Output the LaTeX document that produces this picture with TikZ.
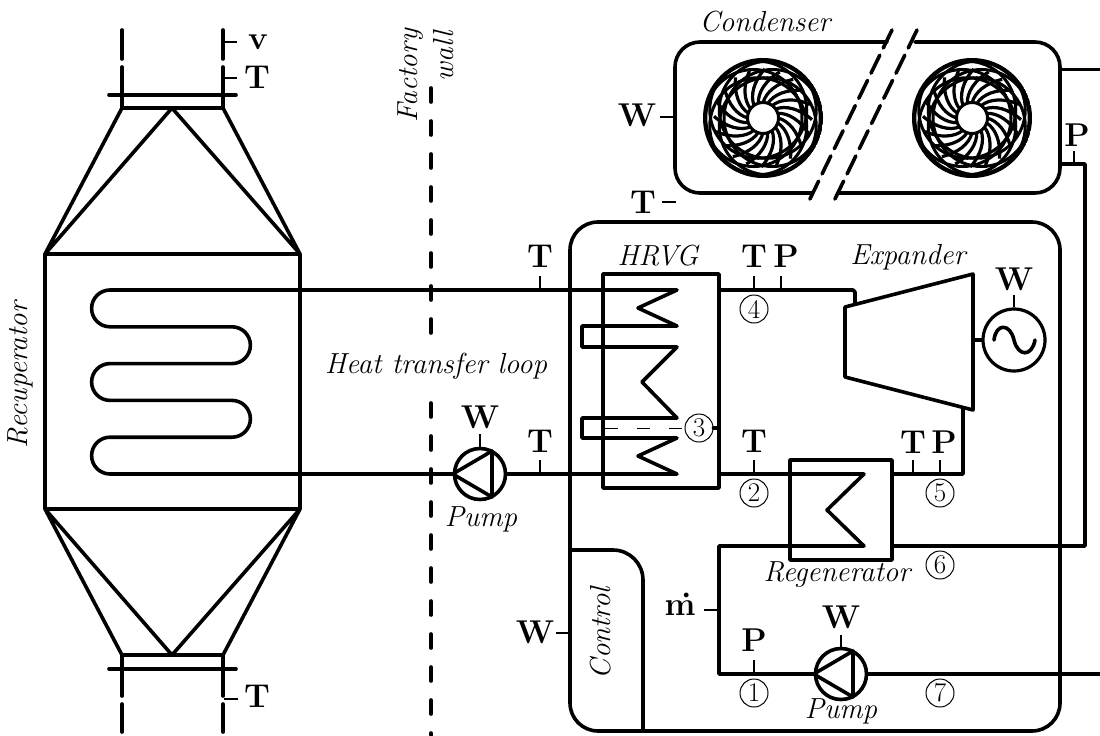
\documentclass[tikz,border=0pt]{standalone}
\begin{document}
\tikzset{
  thick line/.style={line width=3.6pt,line join=round,line cap=round},
  tickline/.style={line width=2pt},
  wallline/.style={line width=3.6pt,line cap=round,dash pattern=on 14pt off 19pt},
  sens/.style={font=\fontsize{33}{33}\selectfont\bfseries,inner sep=0pt},
  lab/.style={font=\fontsize{29}{29}\selectfont\itshape,inner sep=0pt},
  num/.style={circle,draw,line width=1pt,minimum size=28pt,inner sep=0pt,font=\fontsize{27}{27}\selectfont},
}
\newcommand{\fan}[2]{%
  \begin{scope}[shift={(#1,#2)}]
    \clip (0,0) circle[radius=60];
    \foreach \a in {0,18,...,359}{
      \draw[line width=3.2pt] (\a:15) .. controls (\a+6:26) and (\a+22:38) .. (\a+38:49);
    }
    \foreach \a in {0,60,...,359}{
      \draw[line width=3pt] (\a:9.5) circle[radius=48.5];
    }
    \draw[line width=4.6pt] (0,0) circle[radius=58];
    \draw[line width=3pt,fill=white] (0,0) circle[radius=15.5];
  \end{scope}}
\begin{tikzpicture}[x=1pt,y=-1pt]
\useasboundingbox (0,0) rectangle (1100,736);

% ---- recuperator
\draw[thick line] (45,254) rectangle (300,509);
\draw[thick line] (122,108) -- (223,108) -- (300,254) -- (172,108) -- (45,254) -- cycle;
\draw[thick line] (122,655) -- (223,655) -- (300,509) -- (172,655) -- (45,509) -- cycle;
\draw[thick line] (109,95) -- (236,95);
\draw[thick line] (109,669) -- (236,669);
\draw[thick line] (122,108) -- (122,67) (122,59) -- (122,30);
\draw[thick line] (223,108) -- (223,67) (223,59) -- (223,30);
\draw[thick line] (122,655) -- (122,696) (122,704) -- (122,732);
\draw[thick line] (223,655) -- (223,696) (223,704) -- (223,732);
\draw[tickline] (224,42) -- (237,42);
\draw[tickline] (224,78) -- (237,78);
\draw[tickline] (224,699) -- (238,699);
\node[sens] (sv) at (258,42) {v};
\node[sens] (stt) at (257,77) {T};
\node[sens] (stb) at (257,696) {T};
\node[lab,rotate=90] (lrec) at (20,375) {Recuperator};

% ---- factory wall
\draw[wallline] (431,88) -- (431,340);
\draw[wallline] (431,403) -- (431,735);
\node[lab,rotate=90] (lfac) at (411,76) {Factory};
\node[lab,rotate=90] (lwall) at (444,56) {wall};
\node[lab] (lhtl) at (436,366) {Heat transfer loop};

% ---- condenser
\draw[thick line] (887,42) -- (700,42) arc[start angle=270,end angle=180,radius=25] -- (675,168) arc[start angle=180,end angle=90,radius=25] -- (813,193);
\draw[thick line] (838,193) -- (1035,193) arc[start angle=90,end angle=0,radius=25] -- (1060,67) arc[start angle=0,end angle=-90,radius=25] -- (915,42);
\draw[line width=3.6pt,dash pattern=on 20pt off 8pt,line cap=round] (892,30) -- (807,205);
\draw[line width=3.6pt,dash pattern=on 20pt off 8pt,line cap=round] (917,30) -- (832,205);
\fan{763}{118}
\fan{972}{118}
\node[lab] (lcond) at (765,22) {Condenser};
\draw[thick line] (1060,69.5) -- (1100,69.5);
\node[sens] (swc) at (637,115) {W};
\draw[tickline] (660,117) -- (675,117);
\node[sens] (spc) at (1077,135) {P};
\draw[tickline] (1074,151) -- (1074,164);

% ---- main enclosure
\draw[thick line] (598,222) -- (1032,222) arc[start angle=-90,end angle=0,radius=28] -- (1060,703) arc[start angle=0,end angle=90,radius=28] -- (598,731) arc[start angle=90,end angle=180,radius=28] -- (570,250) arc[start angle=180,end angle=270,radius=28] -- cycle;
\draw[thick line] (570,550) -- (613,550) arc[start angle=-90,end angle=0,radius=30] -- (643,731);
\node[lab,rotate=90] (lctl) at (601,633) {Control};
\node[sens] (stm) at (643,202) {T};
\draw[tickline] (662,202) -- (676,202);
\node[sens] (swm) at (535,632) {W};
\draw[tickline] (556,633) -- (570,633);

% ---- coil and process lines
\node[circle,draw,line width=3.6pt,minimum size=51pt,inner sep=0pt] (pumpa) at (480,474) {};
\node[circle,draw,line width=3.6pt,minimum size=51pt,inner sep=0pt] (pumpb) at (841,674) {};
\node[circle,draw,line width=3.2pt,minimum size=62pt,inner sep=0pt] (gen) at (1014,340) {};
\draw[thick line] (719,290) -- (853,290) -- (855,292) -- (855,303);
\draw[thick line] (582,290) -- (110,290) arc[start angle=270,end angle=90,radius=18.4] -- (232,326.8) arc[start angle=-90,end angle=90,radius=18.4] -- (110,363.6) arc[start angle=270,end angle=90,radius=18.4] -- (232,400.4) arc[start angle=-90,end angle=90,radius=18.4] -- (110,437.2) arc[start angle=270,end angle=90,radius=18.4] -- (pumpa.west);
\draw[thick line] (pumpa.east) -- (677,474) -- (638,456) -- (677,438) -- (582,438) -- (582,418) -- (677,418) -- (642,382) -- (677,347) -- (582,347) -- (582,326) -- (677,326) -- (638,308) -- (677,290) -- (582,290);
\draw[thick line] (719,474) -- (864,474) -- (827,510) -- (864,546) -- (719,546) -- (719,674) -- (pumpb.west);
\draw[thick line] (pumpb.east) -- (1100,674);
\draw[thick line] (892,474) -- (963,474) -- (963,408);
\draw[thick line] (892,546) -- (1085,546) -- (1085,164) -- (1060,164);

% ---- HRVG, regenerator, expander, generator
\draw[thick line] (603,274) rectangle (719,488);
\draw[thick line] (790,460) rectangle (892,560);
\draw[thick line] (845,307) -- (973,274) -- (973,410) -- (845,377) -- cycle;
\draw[thick line] (973,340) -- (gen.west);
\draw[thick line] (994,340) .. controls (996,323) and (1010,323) .. (1014,340) .. controls (1018,357) and (1032,357) .. (1035,340);
\draw[tickline] (gen.north) -- (1014,295);
\node[sens] (swg) at (1014,279) {W};

% ---- pump triangles
\draw[thick line] (pumpb.west) -- (853,651) -- (853,697) -- cycle;
\draw[thick line] (pumpa.west) -- (492,451) -- (492,497) -- cycle;

% ---- state point labels
\node[lab] (lhrvg) at (658,256) {HRVG};
\node[lab] (lexp) at (908,257) {Expander};
\node[lab] (lreg) at (837,575) {Regenerator};
\node[lab] (lpa) at (481,519) {Pump};
\node[lab] (lpb) at (841,711) {Pump};

\node[sens] (st1) at (540,256) {T}; \draw[tickline] (540,276) -- (540,290);
\node[sens] (st2) at (540,441) {T}; \draw[tickline] (540,460) -- (540,474);
\node[sens] (swa) at (480,417) {W}; \draw[tickline] (480,434) -- (pumpa.north);
\node[sens] (st4) at (754,256) {T}; \draw[tickline] (754,276) -- (754,290);
\node[sens] (sp4) at (786,256) {P}; \draw[tickline] (781,276) -- (781,290);
\node[sens] (st3) at (754,441) {T}; \draw[tickline] (754,460) -- (754,474);
\node[sens] (st5) at (913,442) {T}; \draw[tickline] (913,460) -- (913,474);
\node[sens] (sp5) at (944,442) {P}; \draw[tickline] (940,460) -- (940,474);
\node[sens] (sm) at (680,604) {\.{m}}; \draw[tickline] (704,610) -- (719,610);
\node[sens] (sp1) at (754,640) {P}; \draw[tickline] (754,660) -- (754,674);
\node[sens] (swb) at (841,617) {W}; \draw[tickline] (841,635) -- (pumpb.north);

\node[num] (n1) at (754,693) {1};
\node[num] (n2) at (754,493) {2};
\node[num] (n3) at (699,428) {3};
\node[num] (n4) at (754,309) {4};
\node[num] (n5) at (940,493) {5};
\node[num] (n6) at (940,565) {6};
\node[num] (n7) at (940,693) {7};
\draw[line width=1pt,dash pattern=on 13pt off 19pt] (605,428) -- (n3.west);
\draw[thick line] (n3.east) -- (718,428);
\end{tikzpicture}
\end{document}
